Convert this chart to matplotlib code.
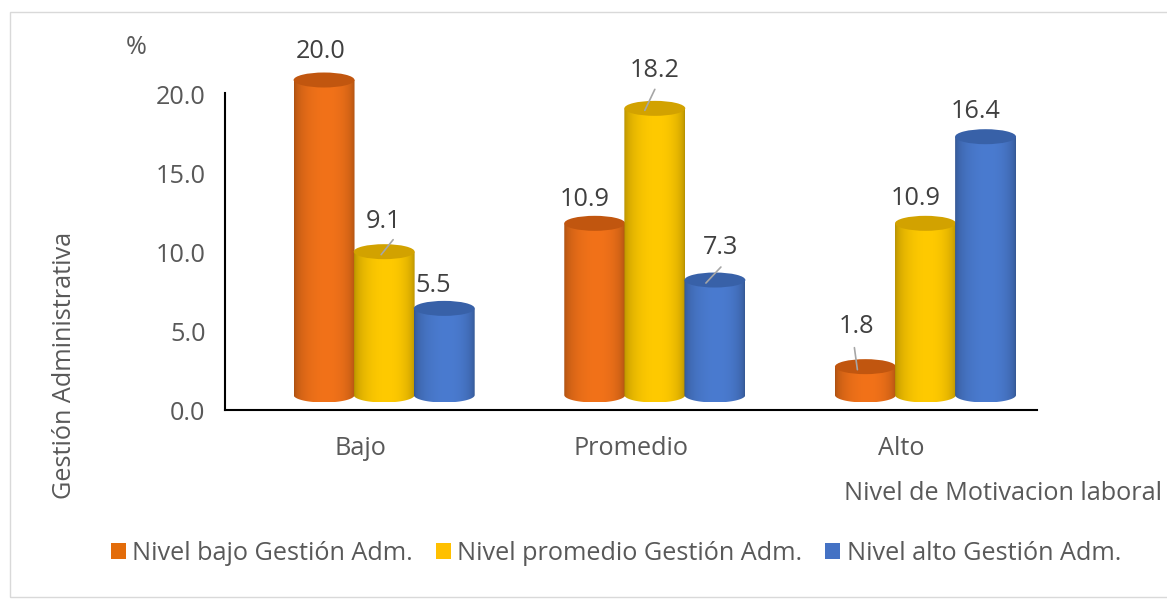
import numpy as np
import matplotlib
matplotlib.use('Agg')
import matplotlib.pyplot as plt
from matplotlib.patches import Ellipse, PathPatch, Rectangle
from matplotlib.path import Path
from matplotlib.transforms import Affine2D
from matplotlib.colors import to_rgb

plt.rcParams['font.family'] = ['Open Sans', 'DejaVu Sans']

# ---------------- data ----------------
categories = ['Bajo', 'Promedio', 'Alto']
series_names = ['Nivel bajo Gestión Adm.', 'Nivel promedio Gestión Adm.',
                'Nivel alto Gestión Adm.']
nivel_bajo = [20.0, 10.9, 1.8]
nivel_promedio = [9.1, 18.2, 10.9]
nivel_alto = [5.5, 7.3, 16.4]
y_ticks = [0, 5, 10, 15, 20]

# ---------------- style ----------------
series = [nivel_bajo, nivel_promedio, nivel_alto]
body_colors = ['#F27219', '#FFCA00', '#4A7BD0']
top_colors = ['#C1560F', '#D2A200', '#3861A8']
legend_colors = ['#E36C0A', '#FFC000', '#4472C4']
TXT = '#595959'
FS = 18.2

W, H = 1167, 600
fig = plt.figure(figsize=(W / 100, H / 100), dpi=100)
px_per_unit = 15.75
y0_px = 410
ytop = 22.5
ax_left_px, ax_right_px = 225, 1037
ax_top_px = y0_px - ytop * px_per_unit
ax = fig.add_axes([ax_left_px / W, 1 - y0_px / H,
                   (ax_right_px - ax_left_px) / W, (y0_px - ax_top_px) / H])
ax.set_facecolor('none')

depth = 15 / px_per_unit        # 3D vertical shift of the columns
ell_h = 15 / px_per_unit        # ellipse height in data units
bar_w = 0.225
offsets = [-0.134, 0.088, 0.31]


def shade(t):
    d = np.where(t < 0.55, (t - 0.55) / 0.55, (t - 0.55) / 0.45)
    return 0.68 + 0.32 * np.sqrt(np.clip(1 - d ** 2, 0, 1))


label_off = {
    (0, 0): (-3, 28), (0, 1): (-10, 24), (0, 2): (-9, 40),
    (1, 0): (-1, 30), (1, 1): (0, 38), (1, 2): (-10, 25),
    (2, 0): (-11, 23), (2, 1): (6, 33), (2, 2): (-10, 25),
}
leaders = {
    (1, 0): ((-3, -3), (9, 12)),
    (1, 1): ((-10, -2), (0, 19)),
    (2, 1): ((-9, -3), (6, 13)),
    (0, 2): ((-8, -3), (-11, 19)),
}

N = 200
tt = np.linspace(0, 1, N)
for i, cat in enumerate(categories):
    for j, vals in enumerate(series):
        v = vals[i]
        xc = i + offsets[j]
        xl, xr = xc - bar_w / 2, xc + bar_w / 2
        yb = depth
        yt = v + depth
        z = 2 + i * 0.3 + j * 0.1
        # body outline: rectangle with lower half-ellipse
        th = np.linspace(np.pi, 2 * np.pi, 60)
        arc = np.column_stack([xc + bar_w / 2 * np.cos(th), yb + ell_h / 2 * np.sin(th)])
        verts = np.vstack([[[xl, yt]], arc, [[xr, yt]], [[xl, yt]]])
        codes = [Path.MOVETO] + [Path.LINETO] * (len(verts) - 2) + [Path.CLOSEPOLY]
        pp = PathPatch(Path(verts, codes), facecolor='none', edgecolor='none',
                       transform=ax.transData, zorder=z)
        ax.add_patch(pp)
        base = np.array(to_rgb(body_colors[j]))
        grad = np.clip(shade(tt)[:, None] * base[None, :], 0, 1)
        img = np.repeat(grad[None, :, :], 2, axis=0)
        im = ax.imshow(img, extent=(xl, xr, yb - ell_h / 2, yt), aspect='auto',
                       interpolation='bilinear', zorder=z)
        im.set_clip_path(pp)
        # top cap
        top = Ellipse((xc, yt), bar_w, ell_h, facecolor=top_colors[j],
                      edgecolor='none', zorder=z + 0.05)
        ax.add_patch(top)
        # data label
        dx, dy = label_off[(j, i)]
        ax.annotate(f'{v:.1f}', xy=(xc, yt), xytext=(dx, dy),
                    textcoords='offset pixels', ha='center', va='center',
                    fontsize=FS, color='#404040', zorder=10)
        if (j, i) in leaders:
            (sx, sy), (ex, ey) = leaders[(j, i)]
            ax.annotate('', xy=(xc, yt),
                        xycoords=ax.transData + Affine2D().translate(sx, sy),
                        xytext=(ex - sx, ey - sy), textcoords='offset pixels',
                        arrowprops=dict(arrowstyle='-', color='#A6A6A6', lw=1.2,
                                        shrinkA=0, shrinkB=0), zorder=10)

ax.set_xlim(-0.5, 2.5)
ax.set_ylim(0, ytop)
ax.set_xticks(range(len(categories)))
ax.set_xticklabels(categories)
ax.set_yticks(y_ticks)
ax.set_yticklabels([f'{t:.1f}' for t in y_ticks])
ax.tick_params(axis='both', length=0, labelsize=FS, colors=TXT)
ax.tick_params(axis='x', pad=19)
ax.tick_params(axis='y', pad=14)
for s in ['top', 'right']:
    ax.spines[s].set_visible(False)
ax.spines['left'].set_bounds(0, (y0_px - 93) / px_per_unit)
ax.spines['left'].set_color('black')
ax.spines['bottom'].set_color('black')
ax.spines['left'].set_linewidth(1.5)
ax.spines['bottom'].set_linewidth(1.5)

fig.text(136 / W, 1 - 47 / H, '%', fontsize=FS, color=TXT, ha='center', va='center')
fig.text(65 / W, 1 - 365 / H, 'Gestión Administrativa', fontsize=FS, color=TXT,
         rotation=90, ha='center', va='center')
fig.text(1162 / W, 1 - 493 / H, 'Nivel de Motivacion laboral', fontsize=FS,
         color=TXT, ha='right', va='center')

handles = [Rectangle((0, 0), 1, 1, facecolor=c, edgecolor='none') for c in legend_colors]
leg = fig.legend(handles, series_names, loc='center', bbox_to_anchor=(616 / W, 1 - 553 / H),
                 ncol=3, frameon=False, fontsize=FS, handlelength=0.6, handleheight=0.6,
                 handletextpad=0.25, columnspacing=0.9, labelcolor=TXT)

fig.patches.append(Rectangle((10 / W, 3 / H), 1.2, (597 - 12) / H, transform=fig.transFigure,
                             facecolor='none', edgecolor='#D9D9D9', lw=1.0))

fig.savefig('out.png', dpi=100)
